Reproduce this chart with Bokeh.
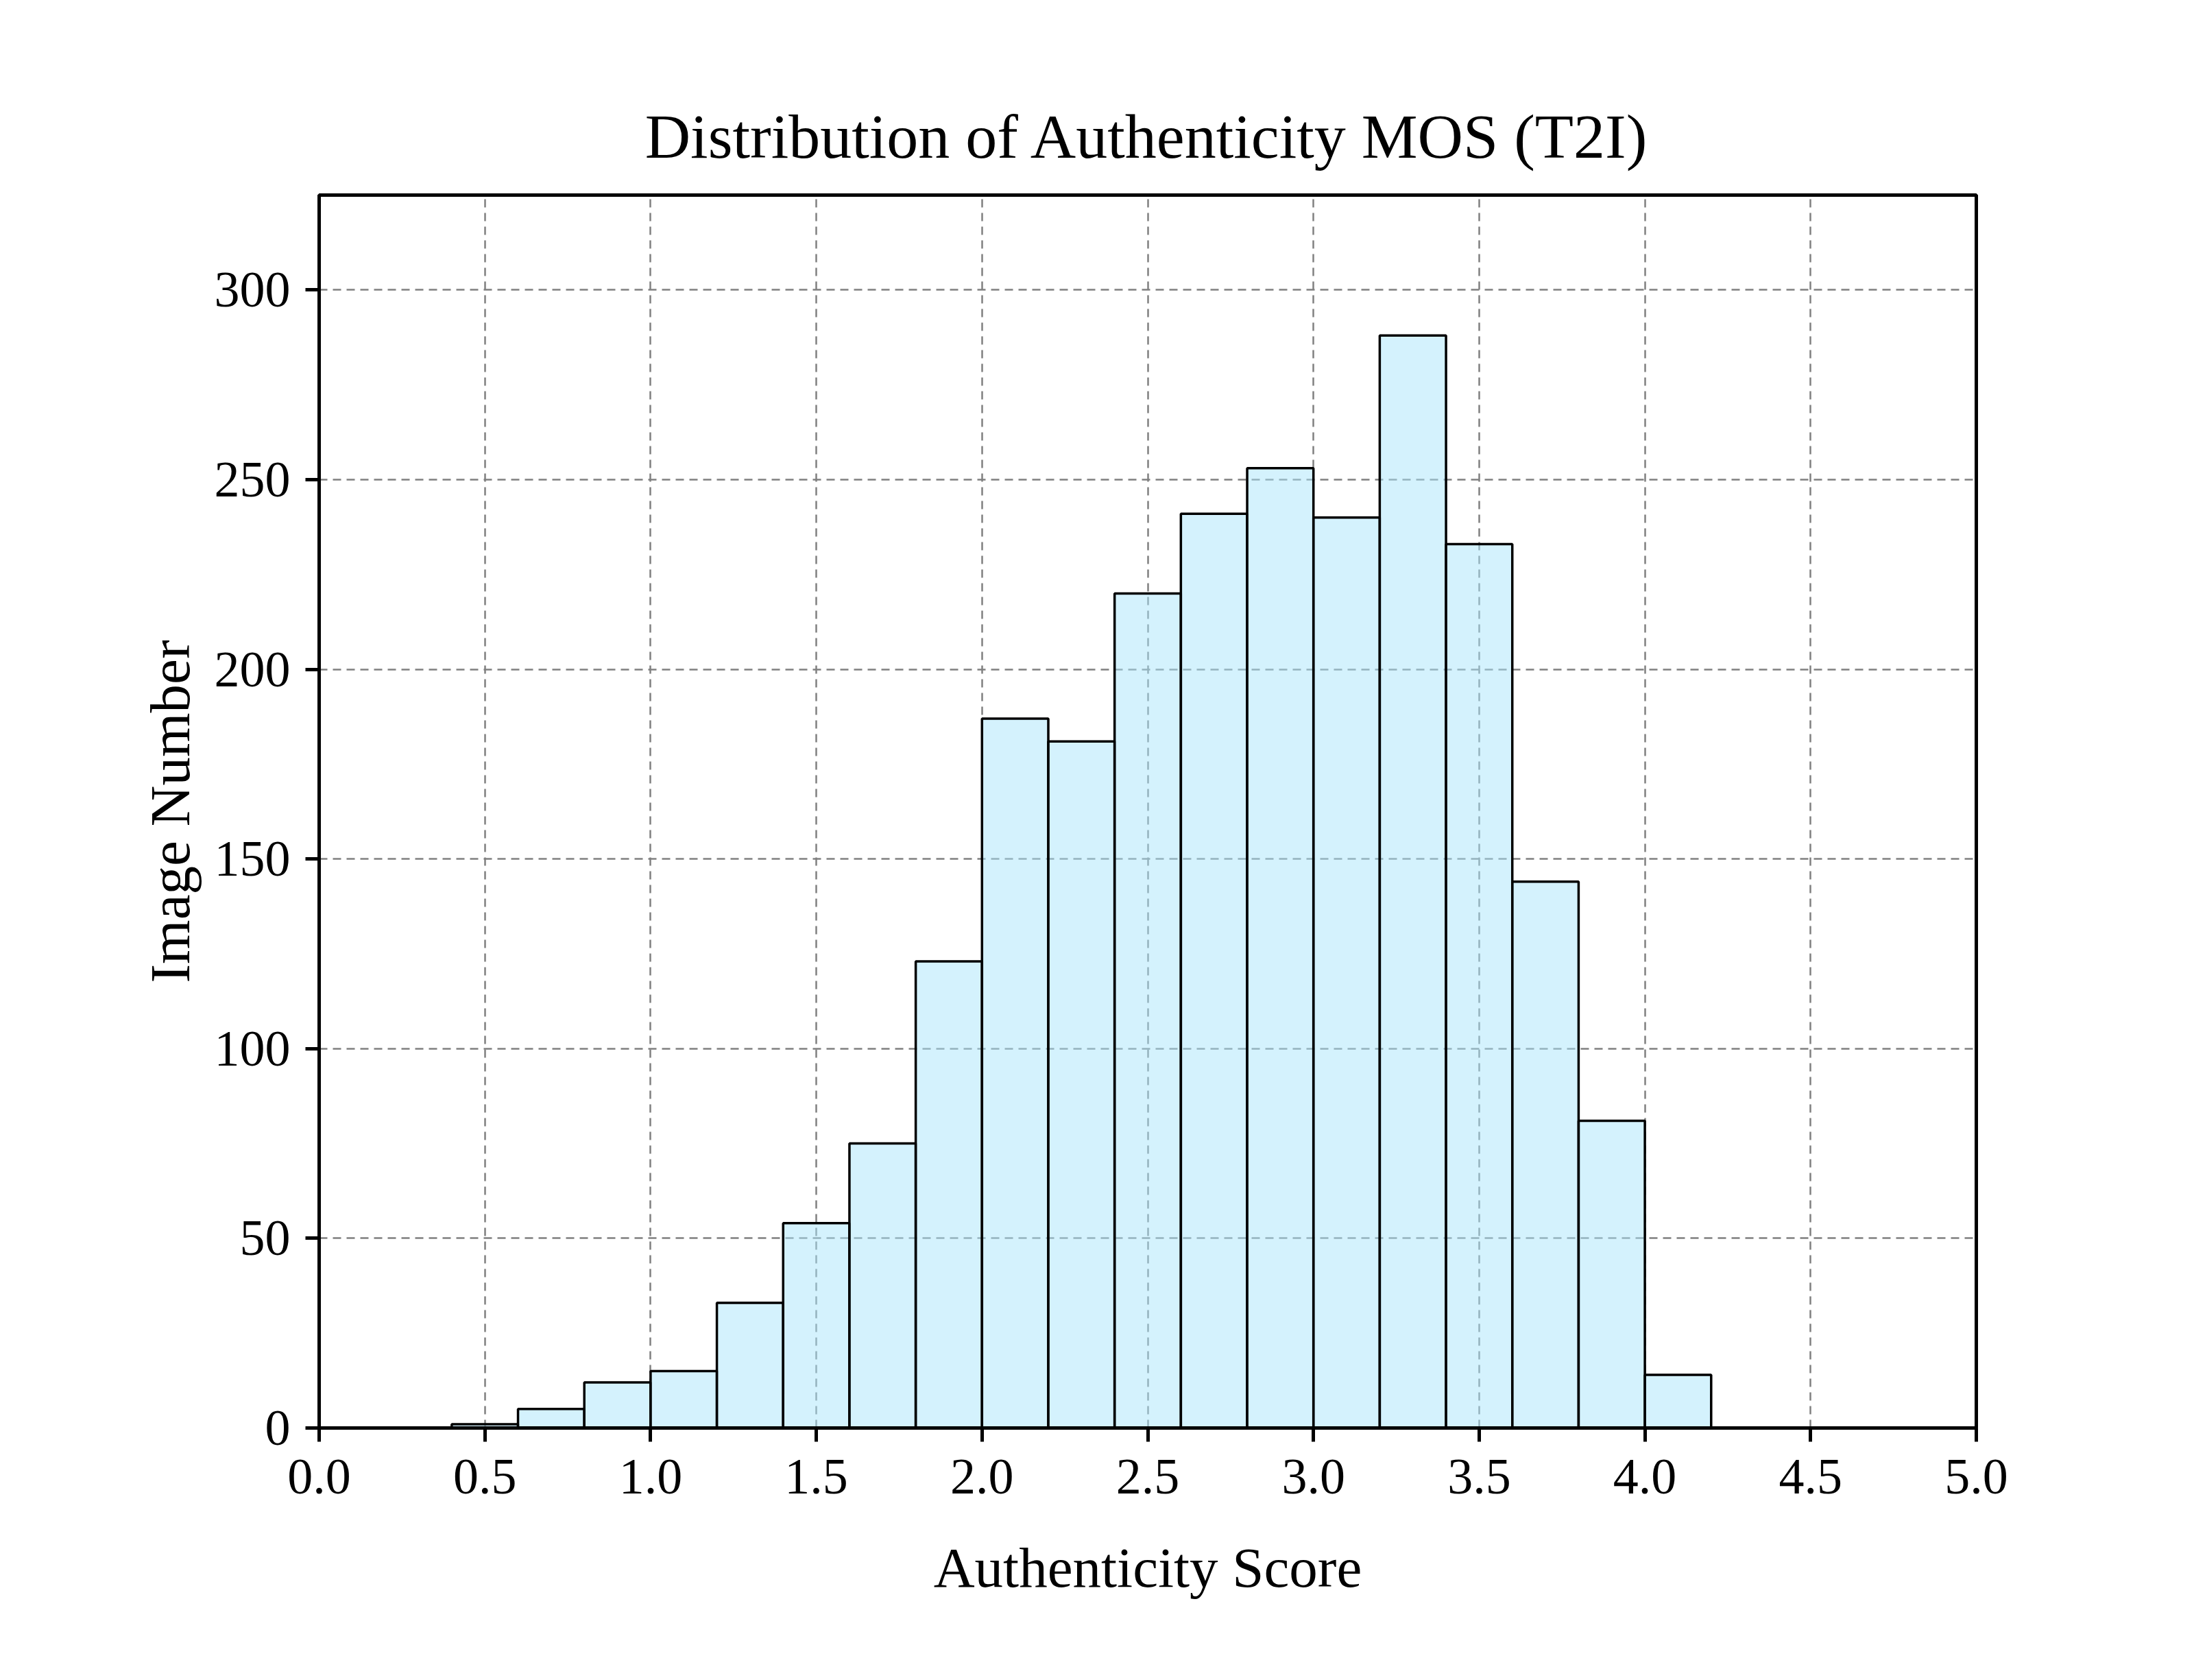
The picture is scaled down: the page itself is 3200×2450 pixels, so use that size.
from bokeh.plotting import figure
from bokeh.models import FixedTicker, ColumnDataSource
from bokeh.embed import file_html
from bokeh.resources import INLINE

# ---- data ----
bin_edges = [0.4, 0.6, 0.8, 1.0, 1.2, 1.4, 1.6, 1.8, 2.0, 2.2, 2.4, 2.6, 2.8,
             3.0, 3.2, 3.4, 3.6, 3.8, 4.0, 4.2]
counts = [1, 5, 12, 15, 33, 54, 75, 123, 187, 181, 220, 241, 253, 240, 288,
          233, 144, 81, 14]
x_ticks = [0.0, 0.5, 1.0, 1.5, 2.0, 2.5, 3.0, 3.5, 4.0, 4.5, 5.0]
y_ticks = [0, 50, 100, 150, 200, 250, 300]
title_text = "Distribution of Authenticity MOS (T2I)"
x_label = "Authenticity Score"
y_label = "Image Number"

FONT = "Liberation Serif"

src = ColumnDataSource(dict(left=bin_edges[:-1], right=bin_edges[1:],
                            top=counts, bottom=[0] * len(counts)))

p = figure(width=3184, height=2434, x_range=(0, 5), y_range=(0, 325),
           output_backend="svg", toolbar_location=None,
           min_border_left=465, min_border_right=302,
           min_border_top=284, min_border_bottom=352)

p.quad(left="left", right="right", top="top", bottom="bottom", source=src,
       fill_color="#a9e5fb", fill_alpha=0.5, line_color="black", line_width=3.5)

# title
p.title.text = title_text
p.title.align = "center"
p.title.text_font = FONT
p.title.text_font_size = "92px"
p.title.text_font_style = "normal"
p.title.text_color = "black"
p.title.standoff = 70

# frame
p.outline_line_color = "black"
p.outline_line_width = 5
p.outline_line_alpha = 1.0
p.background_fill_color = "white"
p.border_fill_color = "white"

# grid
for g in (p.xgrid, p.ygrid):
    g.grid_line_color = "#808080"
    g.grid_line_dash = "12 8"
    g.grid_line_width = 2.5
p.xgrid.ticker = FixedTicker(ticks=x_ticks)
p.ygrid.ticker = FixedTicker(ticks=y_ticks)

# axes
p.xaxis.ticker = FixedTicker(ticks=x_ticks)
p.yaxis.ticker = FixedTicker(ticks=y_ticks)
p.xaxis.major_label_overrides = {t: f"{t:.1f}" for t in x_ticks}
p.xaxis.axis_label = x_label
p.yaxis.axis_label = y_label
for ax in (p.xaxis, p.yaxis):
    ax.axis_line_color = "black"
    ax.axis_line_width = 5
    ax.major_tick_line_color = "black"
    ax.major_tick_line_width = 5
    ax.major_tick_out = 20
    ax.major_tick_in = 0
    ax.minor_tick_line_color = None
    ax.major_label_text_font = FONT
    ax.major_label_text_font_size = "74px"
    ax.major_label_text_color = "black"
    ax.axis_label_text_font = FONT
    ax.axis_label_text_font_size = "83px"
    ax.axis_label_text_font_style = "normal"
    ax.axis_label_text_color = "black"
p.xaxis.major_label_standoff = 26
p.yaxis.major_label_standoff = 22
p.xaxis.axis_label_standoff = 59
p.yaxis.axis_label_standoff = 16

open("out.html", "w").write(file_html(p, INLINE))
